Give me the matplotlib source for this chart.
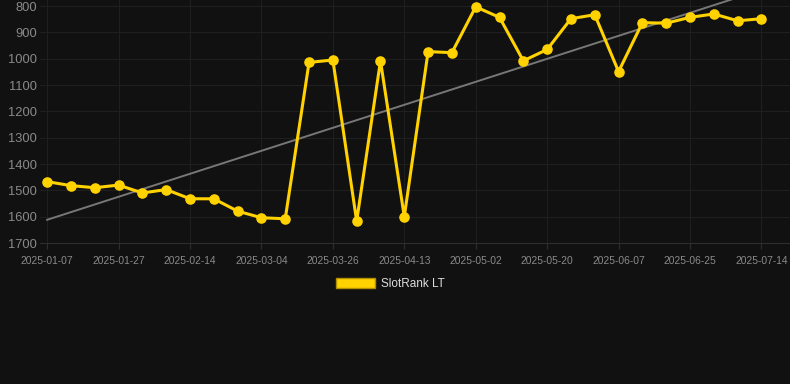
import numpy as np
import matplotlib
matplotlib.use("Agg")
import matplotlib.pyplot as plt
from matplotlib.patches import Patch

# weekly dates (only every 3rd one is labelled on the axis)
dates = ["2025-01-07", "2025-01-14", "2025-01-20", "2025-01-27", "2025-02-02", "2025-02-08",
         "2025-02-14", "2025-02-20", "2025-02-26", "2025-03-04", "2025-03-11", "2025-03-18",
         "2025-03-26", "2025-04-01", "2025-04-07", "2025-04-13", "2025-04-19", "2025-04-26",
         "2025-05-02", "2025-05-08", "2025-05-14", "2025-05-20", "2025-05-26", "2025-06-01",
         "2025-06-07", "2025-06-13", "2025-06-19", "2025-06-25", "2025-07-01", "2025-07-07",
         "2025-07-14"]
rank = [1467, 1482, 1490, 1480, 1510, 1497, 1532, 1532, 1579, 1604, 1608,
        1014, 1005, 1617, 1008, 1600, 973, 977, 803, 843, 1008, 965,
        848, 833, 1049, 863, 865, 843, 830, 856, 848]
y_ticks = [800, 900, 1000, 1100, 1200, 1300, 1400, 1500, 1600, 1700]

bg = "#111111"
gold = "#FFD200"

plt.rcParams['font.family'] = ['Liberation Sans', 'DejaVu Sans']

fig = plt.figure(figsize=(7.9, 3.84), dpi=100, facecolor=bg)
ax = fig.add_axes([40 / 790, (384 - 243) / 384, 750 / 790, 243 / 384])
ax.set_facecolor(bg)

x = np.arange(len(rank))

# trend line (least squares)
k, b = np.polyfit(x, rank, 1)
ax.plot(x, k * x + b, color="#777777", lw=1.4, zorder=2)

ax.plot(x, rank, color=gold, lw=2.2, marker="o", ms=6.6,
        solid_joinstyle="miter", zorder=3)

ax.set_xlim(-0.3, 31.2)
ax.set_ylim(1700, 777)
ax.set_yticks(y_ticks)
ax.set_xticks(x[::3])
ax.set_xticklabels(dates[::3])

ax.grid(True, color="#1f1f1f", lw=0.8)
for s in ["top", "right", "left"]:
    ax.spines[s].set_visible(False)
ax.spines["bottom"].set_color("#2e2e2e")

ax.tick_params(axis="y", length=0, pad=2, labelsize=9.3, labelcolor="#8a8a8a")
ax.tick_params(axis="x", length=4, color="#2e2e2e", pad=5, labelsize=7.4, labelcolor="#8a8a8a")

leg = fig.legend(handles=[Patch(facecolor=gold, edgecolor="#b08f00", label="SlotRank LT")],
                 loc="center", bbox_to_anchor=(390 / 790, 1 - 284 / 384), frameon=False,
                 handlelength=3.3, handleheight=0.95, handletextpad=0.5, fontsize=8.5)
for t in leg.get_texts():
    t.set_color("#dddddd")

fig.savefig("out.png", dpi=100, facecolor=bg)
